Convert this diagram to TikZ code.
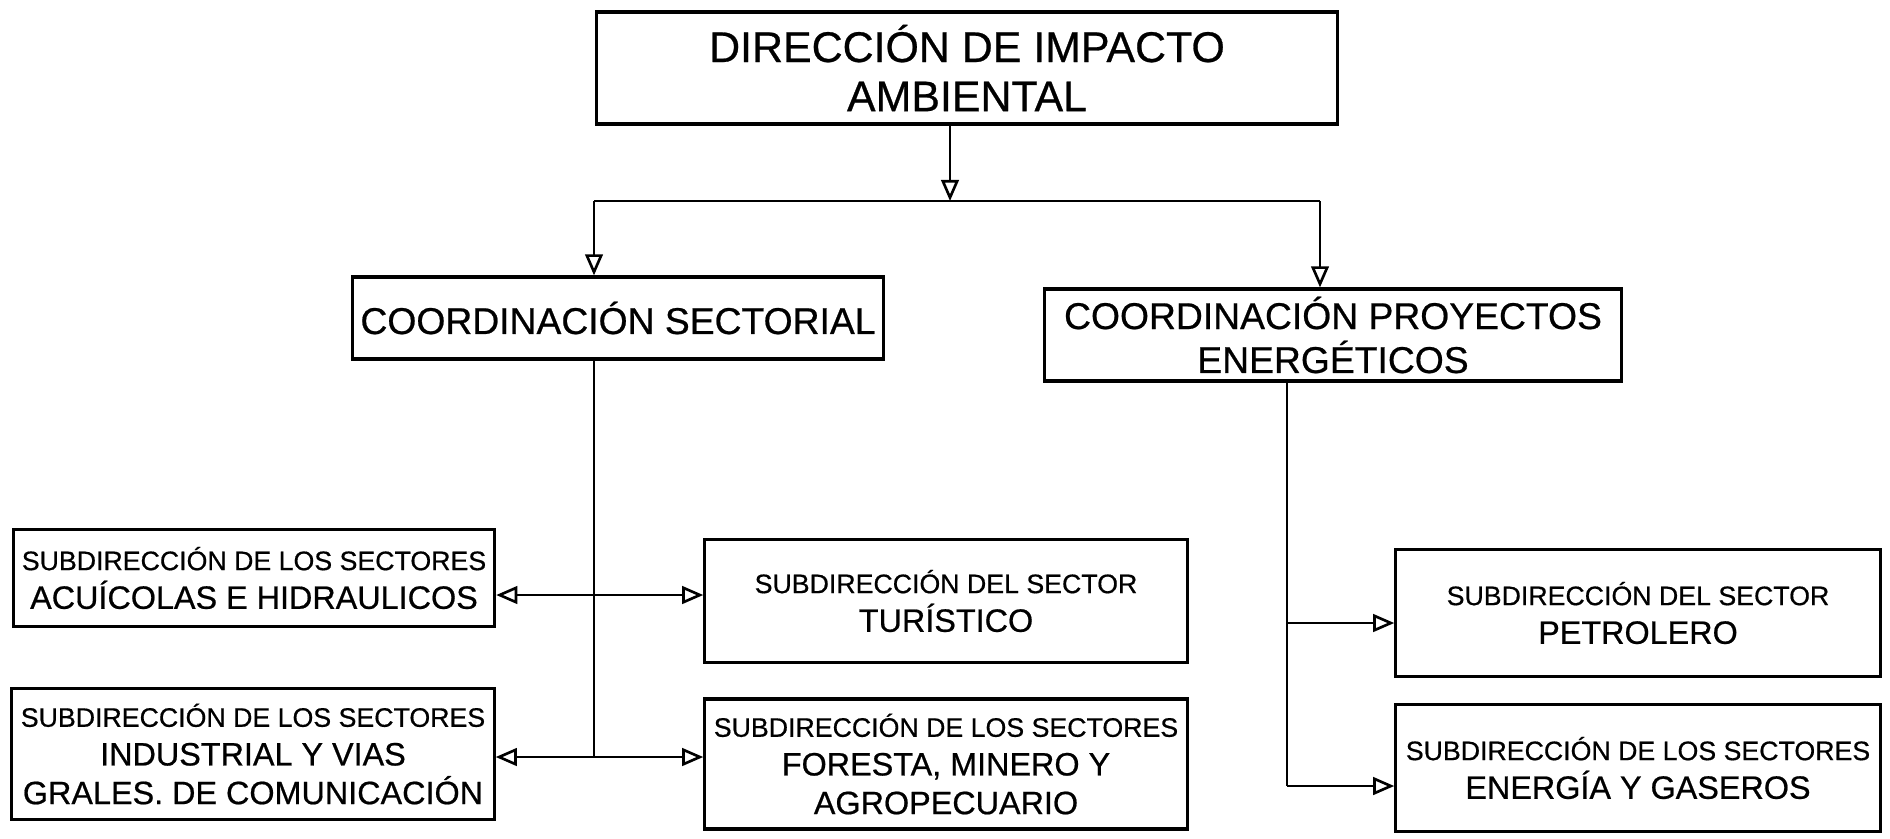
\documentclass[tikz,border=0pt]{standalone}
\usepackage{fontspec}
\setmainfont[FakeBold=0.6]{Liberation Sans}
\usetikzlibrary{arrows.meta}
\tikzset{
  box/.style={draw, line width=0.9pt, inner sep=0pt, align=center, font=\fontsize{9.2}{11}\selectfont},
  link/.style={line width=0.75pt},
  arr/.style={link, -{Triangle[open, length=6pt, width=5pt]}}
}
\newcommand{\subline}[1]{{\fontsize{7.6}{11}\selectfont #1}}
\begin{document}
\begin{tikzpicture}[x=0.01cm, y=-0.01cm]
  \useasboundingbox (0,0) rectangle (1890,838);

  \node[box, minimum width=7.41cm, minimum height=1.12cm, font=\fontsize{12.2}{14}\selectfont] (dir) at (967,68) {DIRECCIÓN DE IMPACTO\\AMBIENTAL};
  \node[box, minimum width=5.31cm, minimum height=0.82cm, font=\fontsize{10.6}{12.5}\selectfont] (cs) at (618,318) {COORDINACIÓN SECTORIAL};
  \node[box, minimum width=5.76cm, minimum height=0.92cm, font=\fontsize{10.6}{12.5}\selectfont] (cp) at (1333,335) {COORDINACIÓN PROYECTOS\\ENERGÉTICOS};

  \node[box, minimum width=4.81cm, minimum height=0.97cm] (acu) at (254,578) {\subline{SUBDIRECCIÓN DE LOS SECTORES}\\ACUÍCOLAS E HIDRAULICOS};
  \node[box, minimum width=4.82cm, minimum height=1.31cm] (ind) at (253,754) {\subline{SUBDIRECCIÓN DE LOS SECTORES}\\INDUSTRIAL Y VIAS\\GRALES. DE COMUNICACIÓN};
  \node[box, minimum width=4.82cm, minimum height=1.23cm] (tur) at (946,601) {\subline{SUBDIRECCIÓN DEL SECTOR}\\TURÍSTICO};
  \node[box, minimum width=4.82cm, minimum height=1.30cm] (fst) at (946,764) {\subline{SUBDIRECCIÓN DE LOS SECTORES}\\FORESTA, MINERO Y\\AGROPECUARIO};
  \node[box, minimum width=4.84cm, minimum height=1.27cm] (pet) at (1638,613) {\subline{SUBDIRECCIÓN DEL SECTOR}\\PETROLERO};
  \node[box, minimum width=4.84cm, minimum height=1.27cm] (ene) at (1638,768) {\subline{SUBDIRECCIÓN DE LOS SECTORES}\\ENERGÍA Y GASEROS};

  \coordinate (top) at (950,201);
  \coordinate (lft) at (594,201);
  \coordinate (rgt) at (1320,201);
  \draw[arr] (dir.south -| top) -- (top);
  \draw[link] (lft) -- (rgt);
  \draw[arr] (lft) -- (lft |- cs.north);
  \draw[arr] (rgt) -- (rgt |- cp.north);

  \coordinate (s1) at (594,595);
  \coordinate (s2) at (594,757);
  \draw[link] (cs.south -| s2) -- (s2);
  \draw[arr] (s1) -- (s1 -| acu.east);
  \draw[arr] (s1) -- (s1 -| tur.west);
  \draw[arr] (s2) -- (s2 -| ind.east);
  \draw[arr] (s2) -- (s2 -| fst.west);

  \coordinate (p1) at (1287,623);
  \coordinate (p2) at (1287,786);
  \draw[link] (cp.south -| p2) -- (p2);
  \draw[arr] (p1) -- (p1 -| pet.west);
  \draw[arr] (p2) -- (p2 -| ene.west);
\end{tikzpicture}
\end{document}
